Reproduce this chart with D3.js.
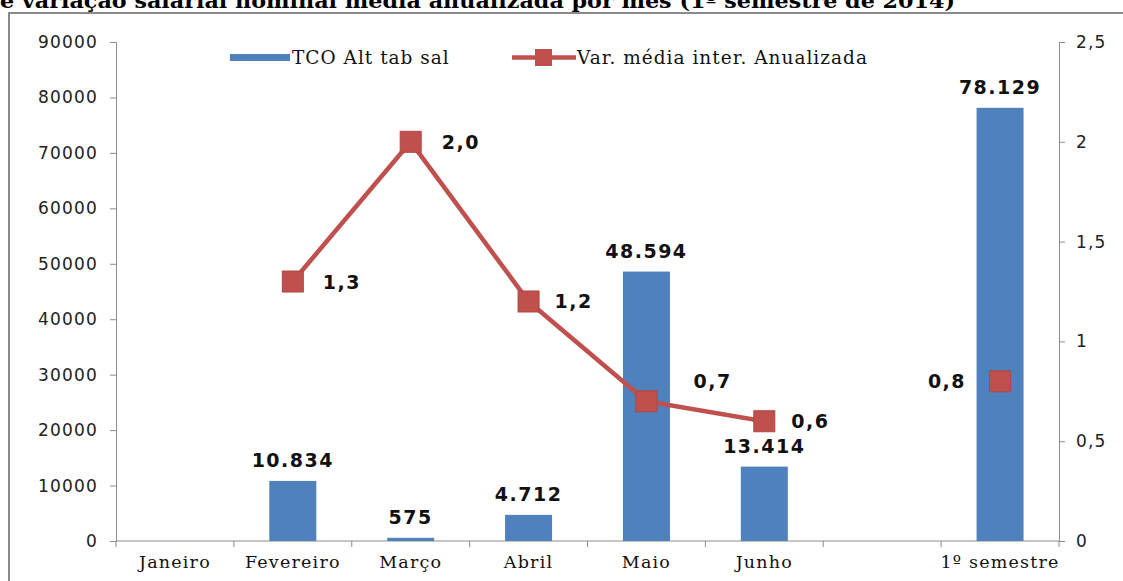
<!DOCTYPE html>
<html><head><meta charset="utf-8">
<script src="https://cdn.jsdelivr.net/npm/d3@7"></script>
<style>
html,body{margin:0;padding:0;background:#fff;overflow:hidden}
svg{display:block}
</style></head>
<body>
<svg id="c" width="1123" height="581"></svg>
<script>
const categories = ["Janeiro","Fevereiro","Março","Abril","Maio","Junho","","1º semestre"];
const barValues = [null,10834,575,4712,48594,13414,null,78129];
const barLabels = [null,"10.834","575","4.712","48.594","13.414",null,"78.129"];
const lineValues = [null,1.3,2.0,1.2,0.7,0.6,null,0.8];
const lineLabels = [null,"1,3","2,0","1,2","0,7","0,6",null,"0,8"];
const leftTicks = [0,10000,20000,30000,40000,50000,60000,70000,80000,90000];
const rightTicks = [0,0.5,1,1.5,2,2.5];
const seriesNames = ["TCO Alt tab sal","Var. média inter. Anualizada"];
const title = "e variação salarial nominal média anualizada por mês (1º semestre de 2014)";

const svg = d3.select("#c");
const BLUE = "#4F81BD", RED = "#C0504D", AX = "#8c8c8c";
const sans = "DejaVu Sans, Verdana, sans-serif";
const serif = "DejaVu Serif, Liberation Serif, serif";

// title (clipped at top)
svg.append("text").attr("x",0).attr("y",8).attr("font-family",serif).attr("font-weight","bold")
  .attr("font-size",20).attr("textLength",955).attr("lengthAdjust","spacingAndGlyphs").text(title);

// border
svg.append("path").attr("d","M9,581 V13 H1123").attr("fill","none").attr("stroke","#8a8a8a").attr("stroke-width",2);

const L = 116, R = 1059, T = 42, B = 541;
const x = d3.scaleBand().domain(d3.range(categories.length)).range([L,R]).paddingInner(0).paddingOuter(0);
const yL = d3.scaleLinear().domain([0,90000]).range([B,T]);
const yR = d3.scaleLinear().domain([0,2.5]).range([B,T]);

// left axis
const gl = svg.append("g").attr("transform",`translate(${L},0)`)
  .call(d3.axisLeft(yL).tickValues(leftTicks).tickSize(6).tickPadding(12).tickFormat(d=>String(d)));
gl.selectAll("path,line").attr("stroke",AX);
gl.selectAll("text").attr("font-family",sans).attr("font-size",17).attr("letter-spacing",1.2).attr("fill","#222");

// right axis
const gr = svg.append("g").attr("transform",`translate(${R},0)`)
  .call(d3.axisRight(yR).tickValues(rightTicks).tickSize(6).tickPadding(11).tickFormat(d=>String(d).replace(".",",")));
gr.selectAll("path,line").attr("stroke",AX);
gr.selectAll("text").attr("font-family",sans).attr("font-size",17).attr("letter-spacing",1.2).attr("fill","#222");

// x axis
const gx = svg.append("g").attr("transform",`translate(0,${B})`);
gx.append("line").attr("x1",L).attr("x2",R).attr("stroke",AX);
const bounds = d3.range(categories.length+1).map(i => L + i*x.bandwidth());
gx.selectAll("line.t").data(bounds).join("line").attr("class","t")
  .attr("x1",d=>d).attr("x2",d=>d).attr("y1",0).attr("y2",6).attr("stroke",AX);
gx.selectAll("text").data(categories).join("text")
  .attr("x",(d,i)=>x(i)+x.bandwidth()/2).attr("y",27).attr("text-anchor","middle")
  .attr("font-family",serif).attr("font-size",17.5).attr("letter-spacing",1.2).attr("fill","#111").text(d=>d);

// bars
const bw = 47;
const barData = barValues.map((v,i)=>({v,i,l:barLabels[i]})).filter(d=>d.v!=null);
svg.selectAll("rect.bar").data(barData).join("rect").attr("class","bar")
  .attr("x",d=>x(d.i)+x.bandwidth()/2-bw/2).attr("width",bw)
  .attr("y",d=>yL(d.v)).attr("height",d=>B-yL(d.v)).attr("fill",BLUE);
svg.selectAll("text.bl").data(barData).join("text").attr("class","bl")
  .attr("x",d=>x(d.i)+x.bandwidth()/2).attr("y",d=>yL(d.v)-14).attr("text-anchor","middle")
  .attr("font-family",sans).attr("font-weight","bold").attr("font-size",19).attr("letter-spacing",1.5).attr("fill","#111").text(d=>d.l);

// line (connected segment Fevereiro..Junho; 1º semestre separate)
const lineData = lineValues.map((v,i)=>({v,i,l:lineLabels[i]})).filter(d=>d.v!=null);
const line = d3.line().defined(d=>d.v!=null).x(d=>x(d.i)+x.bandwidth()/2).y(d=>yR(d.v));
svg.append("path").datum(lineValues.map((v,i)=>({v,i})).slice(0,7)).attr("d",line)
  .attr("fill","none").attr("stroke",RED).attr("stroke-width",4.5).attr("stroke-linejoin","round");
const ms = 21;
svg.selectAll("rect.mk").data(lineData).join("rect").attr("class","mk")
  .attr("x",d=>x(d.i)+x.bandwidth()/2-ms/2).attr("y",d=>yR(d.v)-ms/2)
  .attr("width",ms).attr("height",ms).attr("fill",RED).attr("stroke","#b04643").attr("stroke-width",1);
// label offsets (dx, dy, anchor) relative to marker center
const off = {1:[30,7,"start"],2:[31,7,"start"],3:[26,7,"start"],4:[47,-13,"start"],5:[27,7,"start"],7:[-34,7,"end"]};
svg.selectAll("text.ll").data(lineData).join("text").attr("class","ll")
  .attr("x",d=>x(d.i)+x.bandwidth()/2+off[d.i][0]).attr("y",d=>yR(d.v)+off[d.i][1]).attr("text-anchor",d=>off[d.i][2])
  .attr("font-family",sans).attr("font-weight","bold").attr("font-size",19).attr("letter-spacing",1.5).attr("fill","#111").text(d=>d.l);

// legend
const lg = svg.append("g");
lg.append("rect").attr("x",230).attr("y",54).attr("width",60).attr("height",7).attr("fill",BLUE);
lg.append("text").attr("x",292).attr("y",64).attr("font-family",serif).attr("font-size",18.5).attr("letter-spacing",1).attr("fill","#111").text(seriesNames[0]);
lg.append("line").attr("x1",512).attr("x2",576).attr("y1",57.5).attr("y2",57.5).attr("stroke",RED).attr("stroke-width",4.5);
lg.append("rect").attr("x",535).attr("y",49).attr("width",17).attr("height",17).attr("fill",RED);
lg.append("text").attr("x",577).attr("y",64).attr("font-family",serif).attr("font-size",18.5).attr("letter-spacing",1).attr("fill","#111").text(seriesNames[1]);
</script>
</body></html>
